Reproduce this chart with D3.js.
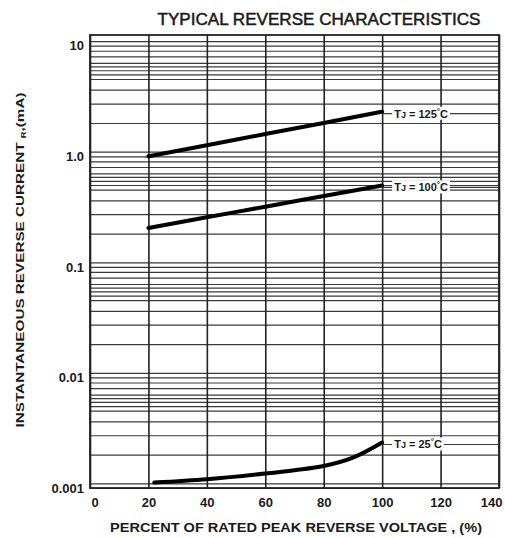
<!DOCTYPE html>
<html>
<head>
<meta charset="utf-8">
<script src="https://cdn.jsdelivr.net/npm/d3@7"></script>
<style>
body{margin:0;background:#fff;}
text{font-family:"Liberation Sans", Arial, sans-serif;fill:#1a1a1a;}
</style>
</head>
<body>
<div id="dchart"></div>
<script>
// axis ticks
const percentTicks = [0, 20, 40, 60, 80, 100, 120, 140];
const currentTicks = [0.001, 0.01, 0.1, 1, 10];
const currentTickLabels = ["0.001", "0.01", "0.1", "1.0", "10"];
// grid of the scanned sheet: decades and the lines drawn inside each
const decades = [0.001, 0.01, 0.1, 1, 10];
const gridSteps = [1, 1.1, 2, 3, 4, 5, 5.5, 6, 6.5, 7, 8, 9];

// curves (percent of VRRM, mA)
const volt125 = [20, 40, 60, 80, 100];
const curr125 = [1.0, 1.26, 1.59, 2.0, 2.53];
const volt100 = [20, 40, 60, 80, 100];
const curr100 = [0.225, 0.281, 0.35, 0.437, 0.545];
const volt25 = [22, 40, 60, 70, 80, 90, 100];
const curr25 = [0.00112, 0.0012, 0.00135, 0.00145, 0.00158, 0.00188, 0.00258];
const tempLabels = ["125", "100", "25"];

const W = 505, H = 538;
const marge = {top: 35, left: 90, right: 6, bottom: 50};
const iw = W - marge.left - marge.right;
const ih = H - marge.top - marge.bottom;

const svg = d3.select("#dchart").append("svg").attr("width", W).attr("height", H);
const chart = svg.append("g").attr("transform", `translate(${marge.left}, ${marge.top})`);

const x = d3.scaleLinear().domain([0, 140]).range([0, iw]);
const y = d3.scaleLog().domain([0.001, 12.5]).range([ih, 0]);

let gridValues = [];
decades.forEach(d => gridSteps.forEach(s => {
    let v = d * s;
    if (v >= 0.001 && v <= 12.5) gridValues.push(v);
}));

// horizontal grid
chart.append("g")
    .call(d3.axisLeft(y).tickValues(gridValues).tickSize(-iw).tickFormat(""))
    .call(g => g.select(".domain").remove())
    .call(g => g.selectAll("line").attr("stroke", "#3a3a3a").attr("stroke-width", 1.2));

// vertical grid
chart.append("g")
    .attr("transform", `translate(0, ${ih})`)
    .call(d3.axisBottom(x).tickValues(percentTicks).tickSize(-ih).tickFormat(""))
    .call(g => g.select(".domain").remove())
    .call(g => g.selectAll("line").attr("stroke", "#222").attr("stroke-width", 1.6));

// frame
chart.append("rect")
    .attr("width", iw).attr("height", ih)
    .attr("fill", "none").attr("stroke", "#222").attr("stroke-width", 1.8);

// tick labels
chart.append("g")
    .attr("transform", `translate(0, ${ih})`)
    .call(d3.axisBottom(x).tickValues(percentTicks).tickSize(0).tickPadding(10))
    .call(g => g.select(".domain").remove())
    .call(g => g.selectAll("text").attr("font-size", 13).attr("font-weight", "bold")
        .style("font-family", "'Liberation Sans', Arial, sans-serif").attr("fill", "#1a1a1a"))
    // first and last label sit inside the frame on the sheet
    .call(g => g.selectAll("text").filter(d => d == 0).attr("text-anchor", "start").attr("x", 1))
    .call(g => g.selectAll("text").filter(d => d == 140).attr("text-anchor", "end").attr("x", 3));

chart.append("g")
    .call(d3.axisLeft(y).tickValues(currentTicks).tickFormat((d, i) => currentTickLabels[i]).tickSize(0).tickPadding(6))
    .call(g => g.select(".domain").remove())
    .call(g => g.selectAll("text").attr("font-size", 13).attr("font-weight", "bold")
        .style("font-family", "'Liberation Sans', Arial, sans-serif").attr("fill", "#1a1a1a"));

// curves
const line = d3.line().x(d => x(d[0])).y(d => y(d[1])).curve(d3.curveMonotoneX);
const curves = [
    [volt125, curr125],
    [volt100, curr100],
    [volt25, curr25]
];

curves.forEach(([vx, cy], i) => {
    let pts = vx.map((v, j) => [v, cy[j]]);
    chart.append("path")
        .attr("d", line(pts))
        .attr("fill", "none")
        .attr("stroke", "#000")
        .attr("stroke-width", 4)
        .attr("stroke-linecap", "round");

    let last = pts[pts.length - 1];
    let ly = y(last[1]) + 2;
    let lx = x(last[0]);
    chart.append("line")
        .attr("x1", lx).attr("x2", iw).attr("y1", ly).attr("y2", ly)
        .attr("stroke", "#3a3a3a").attr("stroke-width", 1.2);

    let bg = chart.append("rect").attr("fill", "#fff");
    let t = chart.append("text")
        .attr("x", lx + 12).attr("y", ly + 4)
        .attr("font-size", 11).attr("font-weight", "bold");
    t.append("tspan").text("T");
    t.append("tspan").attr("font-size", 9).text("J");
    t.append("tspan").text(" = " + tempLabels[i]);
    t.append("tspan").attr("font-size", 8).attr("dy", -4).text("°");
    t.append("tspan").attr("dy", 4).text("C");
    let b = t.node().getBBox();
    bg.attr("x", b.x - 2).attr("y", b.y).attr("width", b.width + 4).attr("height", b.height);
});

// titles
svg.append("text")
    .attr("x", 319).attr("y", 25)
    .attr("text-anchor", "middle")
    .attr("font-size", 16.5)
    .attr("textLength", 323).attr("lengthAdjust", "spacingAndGlyphs")
    .attr("stroke", "#1a1a1a").attr("stroke-width", 0.5)
    .text("TYPICAL REVERSE CHARACTERISTICS");

svg.append("text")
    .attr("x", 296).attr("y", 532)
    .attr("text-anchor", "middle")
    .attr("font-size", 13.5)
    .attr("font-weight", "bold")
    .attr("textLength", 372).attr("lengthAdjust", "spacingAndGlyphs")
    .text("PERCENT OF RATED PEAK REVERSE VOLTAGE , (%)");

const yt = svg.append("text")
    .attr("transform", "translate(24, 260) rotate(-90)")
    .attr("text-anchor", "middle")
    .attr("font-size", 11.5)
    .attr("font-weight", "bold")
    .attr("textLength", 335).attr("lengthAdjust", "spacingAndGlyphs");
yt.append("tspan").text("INSTANTANEOUS  REVERSE  CURRENT ");
yt.append("tspan").attr("font-size", 7).attr("dy", 2).text("R");
yt.append("tspan").attr("dy", -2).text(",(mA)");
</script>
</body>
</html>
